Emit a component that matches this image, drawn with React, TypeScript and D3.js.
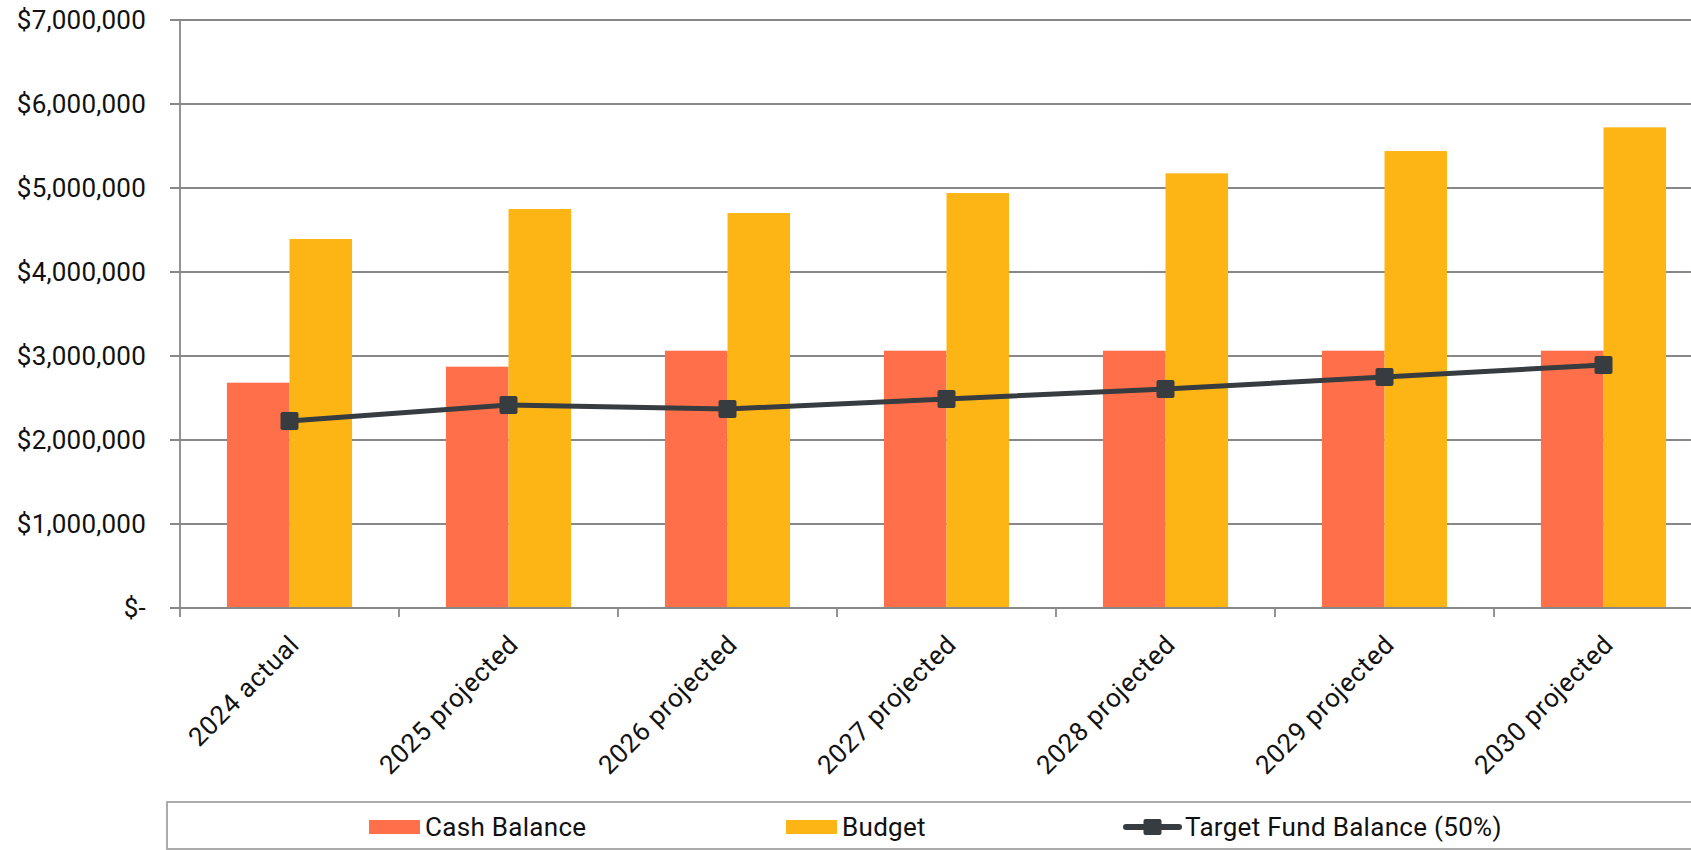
import React, { useRef, useEffect } from 'react';
import * as d3 from 'd3';

const categories = [
    '2024 actual',
    '2025 projected',
    '2026 projected',
    '2027 projected',
    '2028 projected',
    '2029 projected',
    '2030 projected',
];
const cashBalance = [2682000, 2873000, 3063000, 3063000, 3063000, 3063000, 3063000];
const budget = [4393000, 4750000, 4702000, 4940000, 5175000, 5440000, 5722000];
const targetFund = [2226000, 2417000, 2369000, 2488000, 2607000, 2750000, 2893000];
const yTicks = [0, 1000000, 2000000, 3000000, 4000000, 5000000, 6000000, 7000000];
const seriesNames = ['Cash Balance', 'Budget', 'Target Fund Balance (50%)'];

const colors = { cash: '#FF6F4A', budget: '#FDB515', line: '#373C40', grid: '#888888' };

const App = () => {
    const width = 1691;
    const height = 850;
    const margin = { top: 20, left: 180, bottom: 242 };
    const plotRight = 1713; // plot runs a bit past the window, as in the source

    const svgRef = useRef(null);

    useEffect(() => {
        if (!svgRef.current) {
            return;
        }
        const svg = d3.select(svgRef.current);
        svg.selectAll('*').remove();

        const y0 = height - margin.bottom;
        const font = 'Roboto, "Noto Sans", sans-serif';

        const xScale = d3.scaleBand().domain(categories).range([margin.left, plotRight]).padding(0);
        const xInner = d3
            .scaleBand()
            .domain(['cash', 'budget'])
            .range([0, xScale.bandwidth()])
            .paddingInner(0)
            .paddingOuter(0.75);
        const yScale = d3.scaleLinear().domain([0, 7000000]).range([y0, margin.top]);

        // gridlines + y labels
        const yAxis = svg.append('g');
        yAxis
            .selectAll('line')
            .data(yTicks)
            .join('line')
            .attr('x1', margin.left - 10)
            .attr('x2', plotRight)
            .attr('y1', d => yScale(d))
            .attr('y2', d => yScale(d))
            .attr('stroke', colors.grid)
            .attr('stroke-width', 1.8);

        yAxis
            .selectAll('text')
            .data(yTicks)
            .join('text')
            .attr('x', 146)
            .attr('y', d => yScale(d))
            .attr('dy', '0.36em')
            .attr('text-anchor', 'end')
            .style('font-family', font)
            .style('font-size', '26px')
            .style('letter-spacing', '0.2px')
            .attr('fill', '#111')
            .text(d => (d === 0 ? '$-' : d3.format('$,')(d)));

        // left axis line
        svg.append('line')
            .attr('x1', margin.left)
            .attr('x2', margin.left)
            .attr('y1', margin.top)
            .attr('y2', y0 + 9)
            .attr('stroke', colors.grid)
            .attr('stroke-width', 1.8);

        // bars
        const groups = svg
            .append('g')
            .selectAll('g')
            .data(categories)
            .join('g')
            .attr('transform', d => `translate(${xScale(d)},0)`);

        groups
            .append('rect')
            .attr('x', xInner('cash'))
            .attr('width', xInner.bandwidth())
            .attr('y', (d, i) => yScale(cashBalance[i]))
            .attr('height', (d, i) => y0 - yScale(cashBalance[i]))
            .attr('fill', colors.cash);

        groups
            .append('rect')
            .attr('x', xInner('budget'))
            .attr('width', xInner.bandwidth())
            .attr('y', (d, i) => yScale(budget[i]))
            .attr('height', (d, i) => y0 - yScale(budget[i]))
            .attr('fill', colors.budget);

        // x axis
        svg.append('line')
            .attr('x1', margin.left - 10)
            .attr('x2', plotRight)
            .attr('y1', y0)
            .attr('y2', y0)
            .attr('stroke', colors.grid)
            .attr('stroke-width', 1.8);

        svg.append('g')
            .selectAll('line')
            .data(categories.slice(1))
            .join('line')
            .attr('x1', d => xScale(d))
            .attr('x2', d => xScale(d))
            .attr('y1', y0)
            .attr('y2', y0 + 9)
            .attr('stroke', colors.grid)
            .attr('stroke-width', 1.8);

        svg.append('g')
            .selectAll('text')
            .data(categories)
            .join('text')
            .attr('transform', d => `translate(${xScale(d) + xScale.bandwidth() / 2 - 2},${y0 + 25}) rotate(-45)`)
            .attr('text-anchor', 'end')
            .attr('dy', '0.72em')
            .style('font-family', font)
            .style('font-size', '26px')
            .style('letter-spacing', '0.7px')
            .attr('fill', '#111')
            .text(d => d);

        // target line
        const cx = d => xScale(d) + xScale.bandwidth() / 2;
        const line = d3
            .line()
            .x(d => cx(d[0]))
            .y(d => yScale(d[1]));
        const pts = categories.map((c, i) => [c, targetFund[i]]);

        svg.append('path')
            .datum(pts)
            .attr('d', line)
            .attr('fill', 'none')
            .attr('stroke', colors.line)
            .attr('stroke-width', 5)
            .attr('stroke-linejoin', 'round');

        svg.append('g')
            .selectAll('rect')
            .data(pts)
            .join('rect')
            .attr('x', d => cx(d[0]) - 9)
            .attr('y', d => yScale(d[1]) - 9)
            .attr('width', 18)
            .attr('height', 18)
            .attr('rx', 2)
            .attr('fill', colors.line);

        // legend
        const legend = svg.append('g');
        legend
            .append('rect')
            .attr('x', 167)
            .attr('y', 802)
            .attr('width', 1600)
            .attr('height', 47)
            .attr('fill', 'white')
            .attr('stroke', '#ABABAB')
            .attr('stroke-width', 2);

        const legendY = 827;
        const items = [
            { x: 369, type: 'rect', color: colors.cash },
            { x: 786, type: 'rect', color: colors.budget },
            { x: 1126, type: 'line', color: colors.line },
        ];
        items.forEach((it, i) => {
            if (it.type === 'rect') {
                legend.append('rect')
                    .attr('x', it.x)
                    .attr('y', legendY - 7)
                    .attr('width', 51)
                    .attr('height', 14)
                    .attr('fill', it.color);
            } else {
                legend.append('line')
                    .attr('x1', it.x)
                    .attr('x2', it.x + 53)
                    .attr('y1', legendY)
                    .attr('y2', legendY)
                    .attr('stroke', it.color)
                    .attr('stroke-width', 6)
                    .attr('stroke-linecap', 'round');
                legend.append('rect')
                    .attr('x', it.x + 26.5 - 9)
                    .attr('y', legendY - 8)
                    .attr('width', 18)
                    .attr('height', 16)
                    .attr('rx', 2)
                    .attr('fill', it.color);
            }
            legend.append('text')
                .attr('x', it.x + (it.type === 'rect' ? 56 : 59))
                .attr('y', legendY)
                .attr('dy', '0.36em')
                .style('font-family', font)
                .style('font-size', '26px')
                .style('letter-spacing', '0.3px')
                .attr('fill', '#111')
                .text(seriesNames[i]);
        });
    }, []);

    return (
        <svg
            ref={svgRef}
            width={width}
            height={height}
            style={{ position: 'absolute', left: 0, top: 0, background: 'white', overflow: 'hidden' }}
        ></svg>
    );
};

export default App;
